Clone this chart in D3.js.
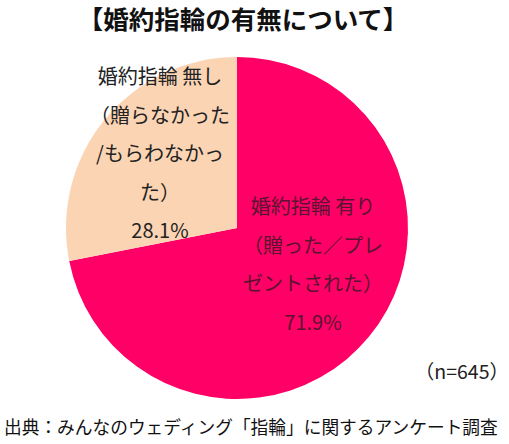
<!DOCTYPE html>
<html>
<head>
<meta charset="utf-8">
<script src="https://cdn.jsdelivr.net/npm/d3@7"></script>
<style>
  body { margin: 0; background: #fff; }
  text { font-family: "Noto Sans CJK JP", "Noto Sans", sans-serif; }
</style>
</head>
<body>
<svg id="chart" width="509" height="444"></svg>
<script>
// Data
const categories = ["婚約指輪 有り", "婚約指輪 無し"];
const values = [71.9, 28.1];
const labelLines = [
  ["婚約指輪 有り", "（贈った／プレ", "ゼントされた）", "71.9%"],
  ["婚約指輪 無し", "（贈らなかった", "/もらわなかっ", "た）", "28.1%"]
];
const colors = ["#FF0066", "#FBD4B4"];
const titleText = "【婚約指輪の有無について】";
const sampleText = "（n=645）";
const sourceText = "出典：みんなのウェディング「指輪」に関するアンケート調査";

const width = 509, height = 444;
const svg = d3.select("#chart");
const cx = 237, cy = 228, radius = 171;

// Title
svg.append("text")
  .attr("x", 243)
  .attr("y", 20 + 25.5 * 0.36)
  .attr("text-anchor", "middle")
  .attr("font-size", 25.5)
  .attr("font-weight", "bold")
  .attr("fill", "#111")
  .text(titleText);

// Pie
const pie = d3.pie().sort(null).value(d => d);
const arc = d3.arc().innerRadius(0).outerRadius(radius);
const g = svg.append("g").attr("transform", `translate(${cx},${cy})`);

g.selectAll("path")
  .data(pie(values))
  .enter().append("path")
  .attr("d", arc)
  .attr("fill", (d, i) => colors[i]);

// Labels (block center offsets from the pie center)
const labelCenters = [[76, 37], [-77, -74]];
const labelColors = ["#5a1430", "#222"];
const lineH = 38.5, fs = 20;

labelLines.forEach((lines, i) => {
  const [ox, oy] = labelCenters[i];
  const top = oy - (lines.length - 1) * lineH / 2;
  const lab = g.append("g");
  lines.forEach((line, j) => {
    lab.append("text")
      .attr("x", ox)
      .attr("y", top + j * lineH + fs * 0.36)
      .attr("text-anchor", "middle")
      .attr("font-size", fs)
      .attr("fill", labelColors[i])
      .text(line);
  });
});

// Sample size
svg.append("text")
  .attr("x", 509)
  .attr("y", 372 + 19.5 * 0.36)
  .attr("text-anchor", "end")
  .attr("font-size", 19.5)
  .attr("fill", "#222")
  .text(sampleText);

// Source, sized to span the width like the original
const src = svg.append("text")
  .attr("x", 4)
  .attr("font-size", 19)
  .attr("fill", "#111")
  .text(sourceText);
const srcSize = 19 * 494 / src.node().getComputedTextLength();
src.attr("font-size", srcSize).attr("y", 428 + srcSize * 0.36);
</script>
</body>
</html>
